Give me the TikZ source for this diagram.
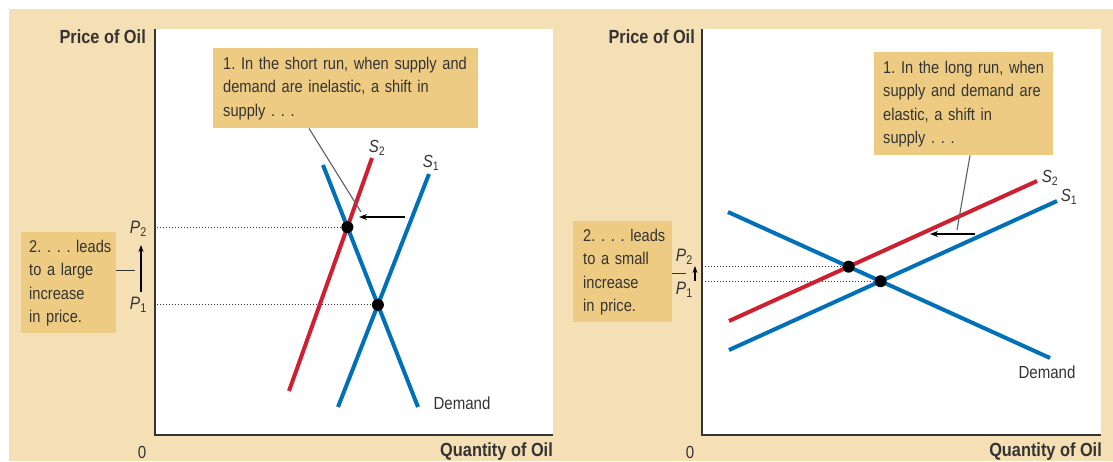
\documentclass[tikz,border=0pt]{standalone}
\usepackage{fontspec}
\setmainfont{Liberation Sans}[FakeStretch=0.86]
\usetikzlibrary{arrows.meta,positioning}
\frenchspacing
\definecolor{OilTan}{RGB}{245,223,181}
\definecolor{NoteTan}{RGB}{237,203,131}
\definecolor{SupplyRed}{RGB}{206,32,48}
\definecolor{CurveBlue}{RGB}{0,112,185}
\definecolor{InkGray}{RGB}{52,52,52}
\definecolor{LeaderGray}{RGB}{95,95,95}
\newcommand{\notelines}[1]{\begin{tabular}{@{}l@{}}#1\end{tabular}}
\tikzset{
  notebox/.style={fill=NoteTan,anchor=north west,align=left,inner ysep=0pt,font=\fontsize{17}{23.5}\selectfont,text=InkGray},
  axisline/.style={line width=2pt,draw=InkGray},
  oldsupply/.style={line width=4pt,draw=CurveBlue},
  newsupply/.style={line width=4pt,draw=SupplyRed},
  demandline/.style={line width=4pt,draw=CurveBlue},
  eqdot/.style={circle,fill=black,inner sep=0pt,minimum size=12pt},
  guide/.style={dotted,line width=1pt,draw=InkGray},
  leader/.style={line width=1.1pt,draw=LeaderGray},
  shiftarrow/.style={-{Stealth[length=8pt,width=6pt]},line width=1.4pt,draw=black},
  risearrow/.style={-{Stealth[length=7pt,width=5pt]},line width=1.4pt,draw=black},
  axistitle/.style={font=\bfseries\fontsize{19}{21}\selectfont,text=InkGray,inner sep=0pt},
  curvelabel/.style={font=\fontsize{17.5}{20}\selectfont,text=InkGray,inner sep=0pt},
  pricelabel/.style={font=\fontsize{18}{20}\selectfont,text=InkGray,inner sep=0pt}
}
\begin{document}
\begin{tikzpicture}[x=1pt,y=-1pt]
\useasboundingbox (0,0) rectangle (1113,461);
\fill[OilTan] (9,9) rectangle (1113,461);
\fill[white] (155,29) rectangle (553,435);
\fill[white] (702,29) rectangle (1101,435);
% short run
\coordinate (shortO) at (155,435);
\coordinate (shortS1a) at (338,407);
\coordinate (shortS1b) at (429,174);
\coordinate (shortS2a) at (289,391);
\coordinate (shortS2b) at (372,158);
\coordinate (shortDa) at (323,165);
\coordinate (shortDb) at (418,407);
\coordinate (shortE1) at (intersection of shortS1a--shortS1b and shortDa--shortDb);
\coordinate (shortE2) at (intersection of shortS2a--shortS2b and shortDa--shortDb);
\draw[guide] (shortE2 -| shortO) ++(2,0) -- (shortE2);
\draw[guide] (shortE1 -| shortO) ++(2,0) -- (shortE1);
\draw[newsupply] (shortS2a) -- (shortS2b);
\draw[oldsupply] (shortS1a) -- (shortS1b);
\draw[demandline] (shortDa) -- (shortDb);
\node[eqdot] (shortDot2) at (shortE2) {};
\node[eqdot] (shortDot1) at (shortE1) {};
\draw[axisline] (155,29) -- (shortO) -- (553,435);
\node[curvelabel] (shortS2) at (377,148) {\textit{S}\textsubscript{2}};
\node[curvelabel] (shortS1) at (431,163) {\textit{S}\textsubscript{1}};
\node[curvelabel] (shortD) at (462,403) {Demand};
\node[notebox,text width=245pt,inner xsep=10pt,minimum height=80pt] (shortnote) at (213,48)
  {\notelines{1. In the short run, when supply and\\demand are inelastic, a shift in\\supply . . .}};
\coordinate (shortTip) at (361,212);
\draw[leader] ([xshift=96pt]shortnote.south west) -- (shortTip);
\coordinate (shortFrom) at (405,217);
\coordinate (shortTo) at (359,217);
\draw[shiftarrow] (shortFrom) -- (shortTo);
\node[pricelabel,anchor=east] (shortP2) at (147,229) {\textit{P}\textsubscript{2}};
\node[pricelabel,anchor=east] (shortP1) at (147,305) {\textit{P}\textsubscript{1}};
\draw[risearrow] (141,292) -- (141,245);
\node[notebox,text width=79pt,inner xsep=8pt,minimum height=101pt] (largenote) at (21,232)
  {\notelines{2. . . . leads\\to a large\\increase\\in price.}};
\draw[leader,line width=1.4pt,draw=InkGray] ([yshift=12.5pt]largenote.east) -- ++(19,0);
\node[axistitle,anchor=east] (shortPrice) at (146,37) {Price of Oil};
\node[axistitle,anchor=east] (shortQty) at (553,452) {Quantity of Oil};
\node[curvelabel] (shortZero) at (142,452) {0};
% long run
\coordinate (longO) at (702,435);
\coordinate (longS1a) at (729,350);
\coordinate (longS1b) at (1057,201);
\coordinate (longS2a) at (729,321);
\coordinate (longS2b) at (1037,181);
\coordinate (longDa) at (728,212);
\coordinate (longDb) at (1050,358);
\coordinate (longE1) at (intersection of longS1a--longS1b and longDa--longDb);
\coordinate (longE2) at (intersection of longS2a--longS2b and longDa--longDb);
\draw[guide] (longE2 -| longO) ++(3,0) -- (longE2);
\draw[guide] (longE1 -| longO) ++(3,0) -- (longE1);
\draw[newsupply] (longS2a) -- (longS2b);
\draw[oldsupply] (longS1a) -- (longS1b);
\draw[demandline] (longDa) -- (longDb);
\node[eqdot] (longDot2) at (longE2) {};
\node[eqdot] (longDot1) at (longE1) {};
\draw[axisline] (702,29) -- (longO) -- (1101,435);
\node[curvelabel] (longS2) at (1050,178) {\textit{S}\textsubscript{2}};
\node[curvelabel] (longS1) at (1069,197) {\textit{S}\textsubscript{1}};
\node[curvelabel] (longD) at (1047,372) {Demand};
\node[notebox,text width=161pt,inner xsep=9pt,minimum height=103pt] (longnote) at (874,52)
  {\notelines{1. In the long run, when\\supply and demand are\\elastic, a shift in\\supply . . .}};
\coordinate (longTip) at (957,230);
\draw[leader] ([xshift=96pt]longnote.south west) -- (longTip);
\coordinate (longFrom) at (975,234);
\coordinate (longTo) at (930,234);
\draw[shiftarrow] (longFrom) -- (longTo);
\node[pricelabel,anchor=east] (longP2) at (693,257) {\textit{P}\textsubscript{2}};
\node[pricelabel,anchor=east] (longP1) at (693,290) {\textit{P}\textsubscript{1}};
\draw[risearrow] (695,281) -- (695,266);
\node[notebox,text width=79pt,inner xsep=10pt,minimum height=101pt] (smallnote) at (573,221)
  {\notelines{2. . . . leads\\to a small\\increase\\in price.}};
\draw[leader,line width=1.4pt,draw=InkGray] ([yshift=-1.5pt]smallnote.east) -- ++(14,0);
\node[axistitle,anchor=east] (longPrice) at (695,37) {Price of Oil};
\node[axistitle,anchor=east] (longQty) at (1102,452) {Quantity of Oil};
\node[curvelabel] (longZero) at (690,452) {0};
\end{tikzpicture}
\end{document}
